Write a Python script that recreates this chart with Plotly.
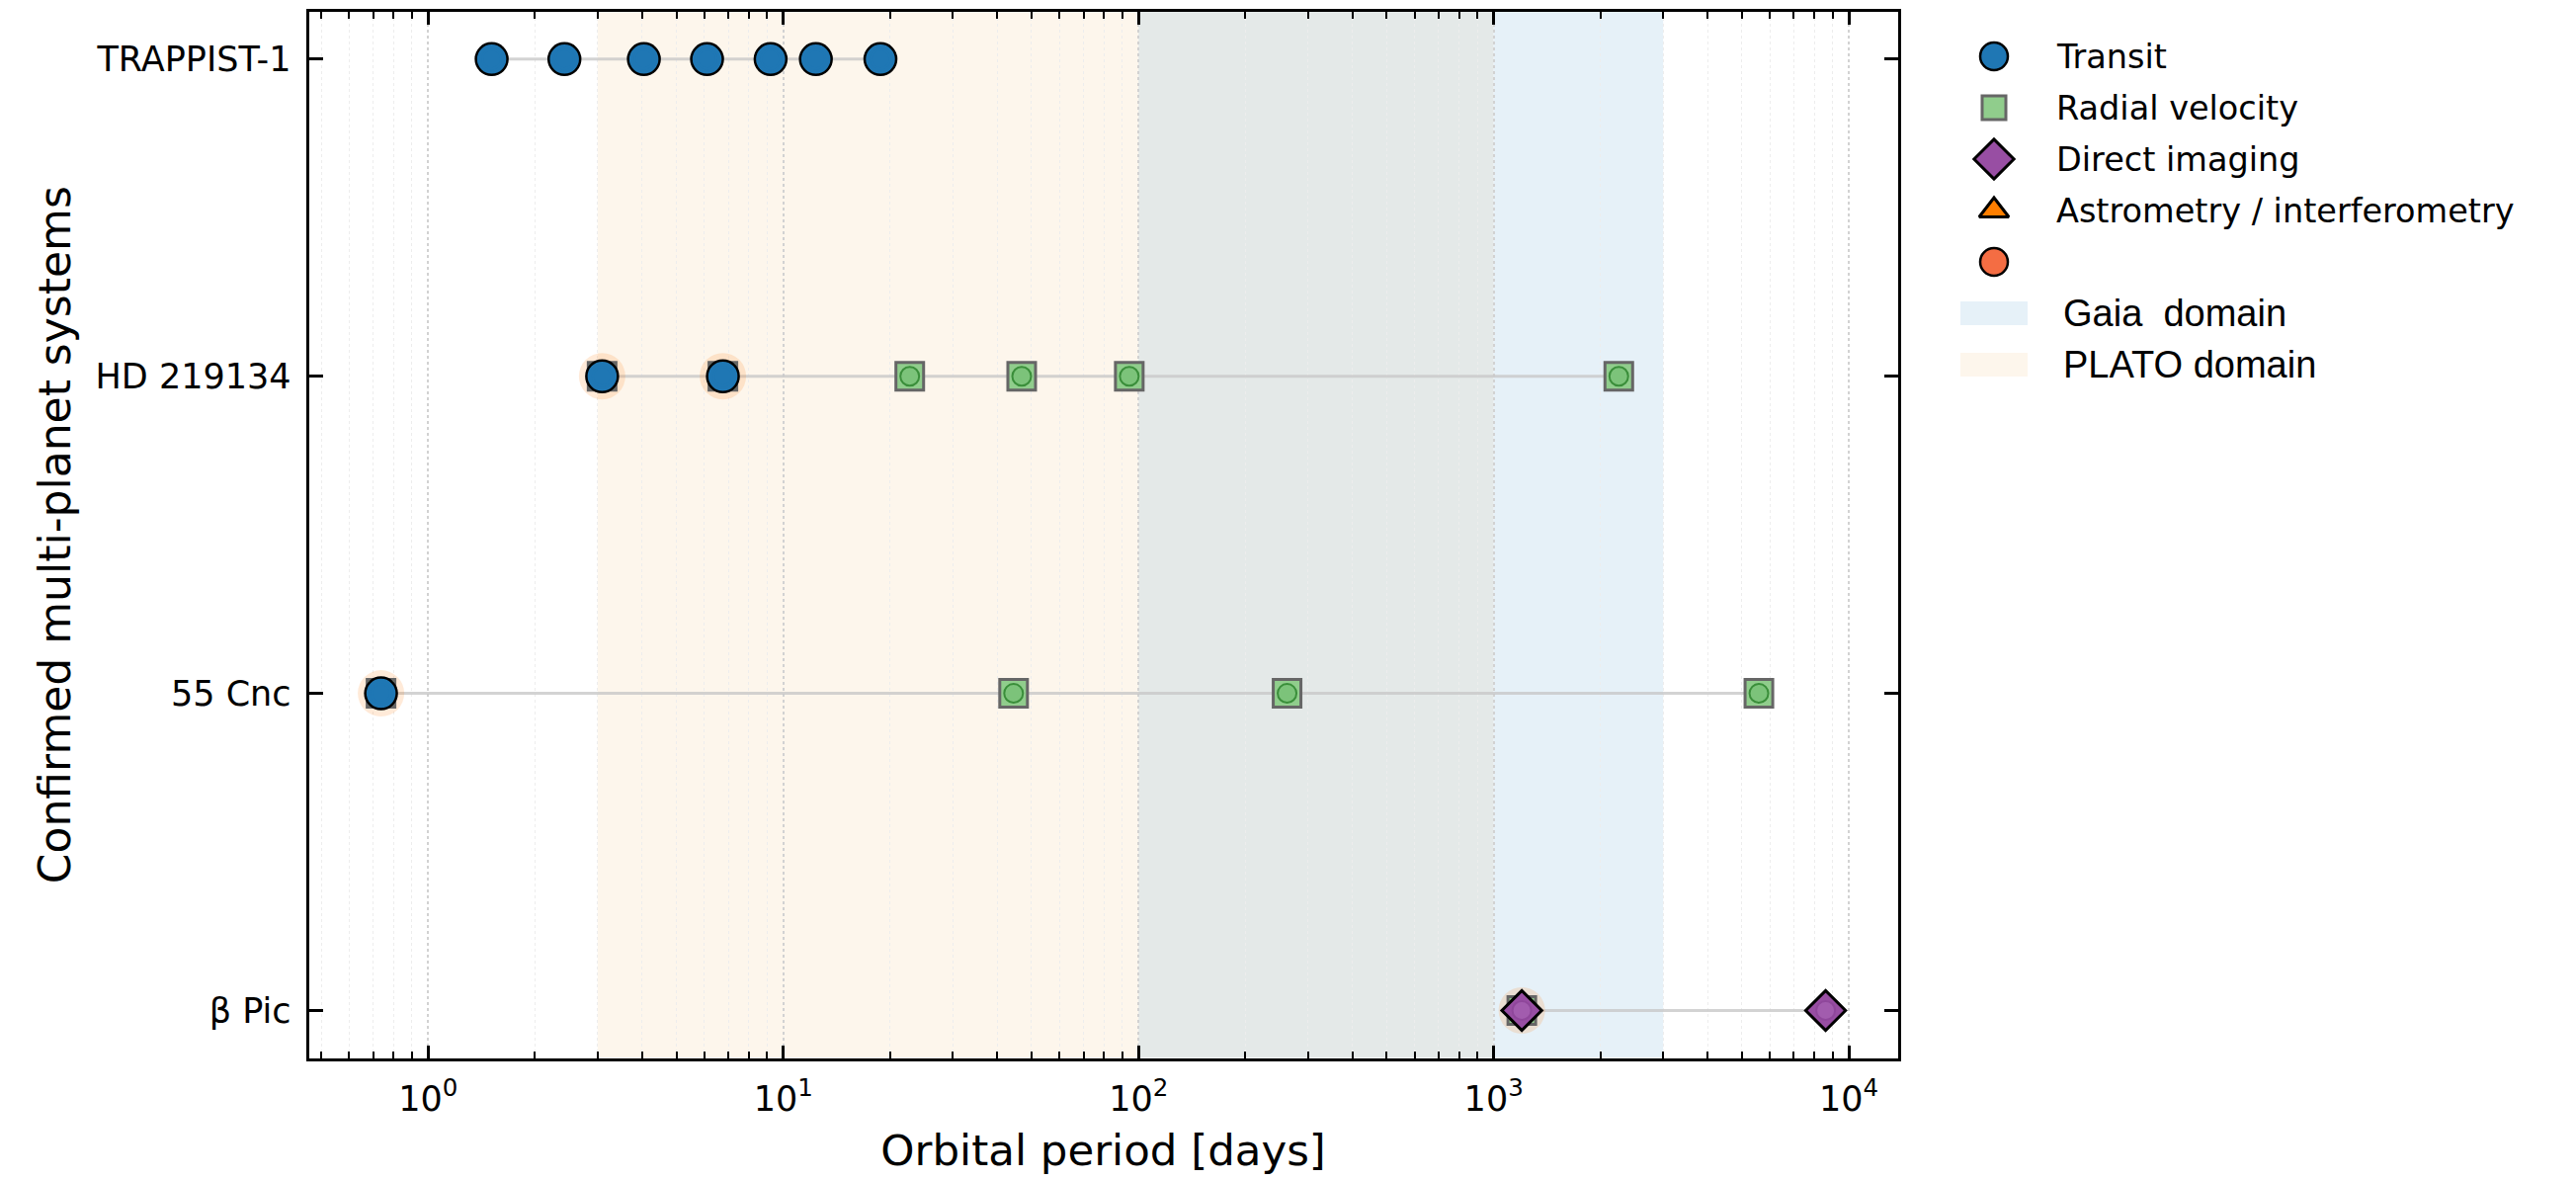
import numpy as np
import plotly.graph_objects as go

# ---------------------------------------------------------------- data
# Rows from bottom to top
systems = ["β Pic", "55 Cnc", "HD 219134", "TRAPPIST-1"]

# Orbital periods [days], main detection method, and whether the planet is
# also confirmed by radial velocity (multi-method detection)
trappist_periods = [1.51, 2.42, 4.05, 6.10, 9.21, 12.35, 18.77]
trappist_methods = ["Transit"] * 7
trappist_multi = [False] * 7

hd219134_periods = [3.09, 6.76, 22.7, 46.9, 94.2, 2250]
hd219134_methods = ["Transit", "Transit", "Radial velocity",
                    "Radial velocity", "Radial velocity", "Radial velocity"]
hd219134_multi = [True, True, False, False, False, False]

cnc55_periods = [0.737, 44.5, 262, 5580]
cnc55_methods = ["Transit", "Radial velocity", "Radial velocity", "Radial velocity"]
cnc55_multi = [True, False, False, False]

betapic_periods = [1200, 8600]
betapic_methods = ["Direct imaging", "Direct imaging"]
betapic_multi = [True, False]

# Survey sensitivity windows in period [days]
plato_band = [3, 100]
overlap_band = [100, 1000]
gaia_band = [1000, 3000]

xtick_vals = [1, 10, 100, 1000, 10000]
xtick_labels = ["10<sup>0</sup>", "10<sup>1</sup>", "10<sup>2</sup>",
                "10<sup>3</sup>", "10<sup>4</sup>"]

legend_methods = ["Transit", "Radial velocity", "Direct imaging",
                  "Astrometry / interferometry", ""]
legend_patches = ["Gaia  domain", "PLATO domain"]

# ---------------------------------------------------------------- styles
W, H = 2607, 1194
PX0, PX1 = 312.5, 1920.7       # plot area, px
PY0, PY1 = 11.7, 1070.6

FONT = "DejaVu Sans"
PATCH_FONT = "Liberation Sans"

STYLE = {
    "Transit": dict(symbol="circle", color="#1f77b4", edge="black", lw=2.5,
                    size=32, lsize=28, inner="#1f77b4", inner_edge="#1f77b4"),
    "Radial velocity": dict(symbol="square", color="#90cd8c", edge="#666666", lw=3,
                            size=28, lsize=24, inner="#7cc37a", inner_edge="#3a8e3a"),
    "Direct imaging": dict(symbol="diamond", color="#984ea3", edge="black", lw=3,
                           size=31, lsize=31, inner="#a25cae", inner_edge="#8f479b"),
    "Astrometry / interferometry": dict(symbol="triangle-up", color="#ff7f00",
                                        edge="black", lw=3, size=26, lsize=26,
                                        inner="#ff9933", inner_edge="#e07000"),
    "": dict(symbol="circle", color="#f46d43", edge="black", lw=2.5,
             size=28, lsize=28, inner="#f46d43", inner_edge="#f46d43"),
}
BAND_COLORS = {"plato": "#fdf6ec", "overlap": "#e4e9e8", "gaia": "#e6f1f8"}
HALO = "rgba(255,127,14,0.16)"
LINK = "rgba(200,200,200,0.8)"

rows = [
    (betapic_periods, betapic_methods, betapic_multi),
    (cnc55_periods, cnc55_methods, cnc55_multi),
    (hd219134_periods, hd219134_methods, hd219134_multi),
    (trappist_periods, trappist_methods, trappist_multi),
]

fig = go.Figure()

# connecting line per system
for yi, (per, meth, multi) in enumerate(rows):
    fig.add_trace(go.Scatter(x=[min(per), max(per)], y=[yi, yi], mode="lines",
                             line=dict(color=LINK, width=3), hoverinfo="skip",
                             showlegend=False))

# halo + radial-velocity square under multi-method planets
hx, hy = [], []
for yi, (per, meth, multi) in enumerate(rows):
    for p, m, f in zip(per, meth, multi):
        if f:
            hx.append(p)
            hy.append(yi)
fig.add_trace(go.Scatter(x=hx, y=hy, mode="markers", hoverinfo="skip", showlegend=False,
                         marker=dict(symbol="circle", size=47, color=HALO,
                                     line=dict(width=0))))
rv = STYLE["Radial velocity"]
fig.add_trace(go.Scatter(x=hx, y=hy, mode="markers", hoverinfo="skip", showlegend=False,
                         marker=dict(symbol=rv["symbol"], size=rv["size"], color=rv["color"],
                                     line=dict(color=rv["edge"], width=rv["lw"]))))

# main markers per method, then the small inner circle
for method in ["Radial velocity", "Transit", "Direct imaging"]:
    st = STYLE[method]
    xs, ys = [], []
    for yi, (per, meth, multi) in enumerate(rows):
        for p, m in zip(per, meth):
            if m == method:
                xs.append(p)
                ys.append(yi)
    fig.add_trace(go.Scatter(x=xs, y=ys, mode="markers", name=method, showlegend=False,
                             marker=dict(symbol=st["symbol"], size=st["size"], color=st["color"],
                                         line=dict(color=st["edge"], width=st["lw"]))))
    fig.add_trace(go.Scatter(x=xs, y=ys, mode="markers", hoverinfo="skip", showlegend=False,
                             marker=dict(symbol="circle", size=19, color=st["inner"],
                                         line=dict(color=st["inner_edge"], width=2))))

# survey bands
shapes = []
for key, band in [("plato", plato_band), ("overlap", overlap_band), ("gaia", gaia_band)]:
    shapes.append(dict(type="rect", xref="x", yref="y domain", x0=band[0], x1=band[1],
                       y0=0, y1=1, fillcolor=BAND_COLORS[key], line=dict(width=0),
                       layer="below"))

# ---------------------------------------------------------------- legend
LX0 = 1945.0
ROW0, ROWGAP = 57.0, 52.0
MX, TX, PTX = 2018.0, 2079.0, 2086.0
annotations = []
for i, lab in enumerate(legend_methods):
    st = STYLE[lab]
    yy = ROW0 + i * ROWGAP
    fig.add_trace(go.Scatter(x=[MX], y=[yy], xaxis="x2", yaxis="y2", mode="markers",
                             hoverinfo="skip", showlegend=False,
                             marker=dict(symbol=st["symbol"], size=st["lsize"], color=st["color"],
                                         line=dict(color=st["edge"], width=st["lw"]))))
    if lab:
        annotations.append(dict(x=TX, y=yy, xref="x2", yref="y2", text=lab, showarrow=False,
                                xanchor="left", yanchor="middle",
                                font=dict(family=FONT, size=33.5, color="black")))
patch_colors = [BAND_COLORS["gaia"], BAND_COLORS["plato"]]
for j, lab in enumerate(legend_patches):
    yy = ROW0 + (len(legend_methods) + j) * ROWGAP
    shapes.append(dict(type="rect", xref="x2", yref="y2", x0=1984, x1=2052,
                       y0=yy - 12, y1=yy + 12, fillcolor=patch_colors[j],
                       line=dict(width=0), layer="above"))
    annotations.append(dict(x=PTX, y=yy, xref="x2", yref="y2",
                            text=lab.replace("  ", "\u00a0 "), showarrow=False,
                            xanchor="left", yanchor="middle",
                            font=dict(family=PATCH_FONT, size=38, color="black")))

# ---------------------------------------------------------------- axes
all_periods = np.concatenate([np.array(r[0], float) for r in rows])
lo, hi = np.log10(all_periods.min()), np.log10(all_periods.max())
pad = 0.05 * (hi - lo)
minor_vals = [k * 10.0 ** e for e in range(-1, 5) for k in range(2, 10)]

fig.update_layout(
    width=W, height=H, margin=dict(l=0, r=0, t=0, b=0),
    paper_bgcolor="white", plot_bgcolor="white",
    showlegend=False, shapes=shapes, annotations=annotations,
    xaxis=dict(
        type="log", domain=[PX0 / W, PX1 / W], range=[lo - pad, hi + pad],
        showline=True, linecolor="black", linewidth=3, mirror="ticks",
        ticks="inside", ticklen=13, tickwidth=2.5, tickcolor="black",
        tickmode="array", tickvals=xtick_vals, ticktext=xtick_labels,
        tickfont=dict(family=FONT, size=35, color="black"), ticklabelstandoff=8,
        showgrid=True, gridcolor="#d2d2d2", griddash="dot", gridwidth=1.5,
        minor=dict(tickmode="array", tickvals=minor_vals, ticks="inside", ticklen=7,
                   tickwidth=2, tickcolor="black", showgrid=True,
                   gridcolor="#ededed", griddash="dot", gridwidth=1),
        zeroline=False,
        title=dict(text="Orbital period [days]", standoff=18,
                   font=dict(family=FONT, size=43.5, color="black")),
    ),
    yaxis=dict(
        domain=[(H - PY1) / H, (H - PY0) / H], range=[-0.15, 3.15],
        showline=True, linecolor="black", linewidth=3, mirror="ticks",
        ticks="inside", ticklen=14, tickwidth=3, tickcolor="black",
        tickmode="array", tickvals=list(range(len(systems))), ticktext=systems,
        tickfont=dict(family=FONT, size=35, color="black"), ticklabelstandoff=8,
        showgrid=False, zeroline=False,
        title=dict(text="Confirmed multi-planet systems", standoff=12,
                   font=dict(family=FONT, size=44, color="black")),
    ),
    xaxis2=dict(domain=[LX0 / W, 1], range=[LX0, W], visible=False, anchor="y2"),
    yaxis2=dict(domain=[0, 1], range=[H, 0], visible=False, anchor="x2"),
)

fig.write_html("out.html")
